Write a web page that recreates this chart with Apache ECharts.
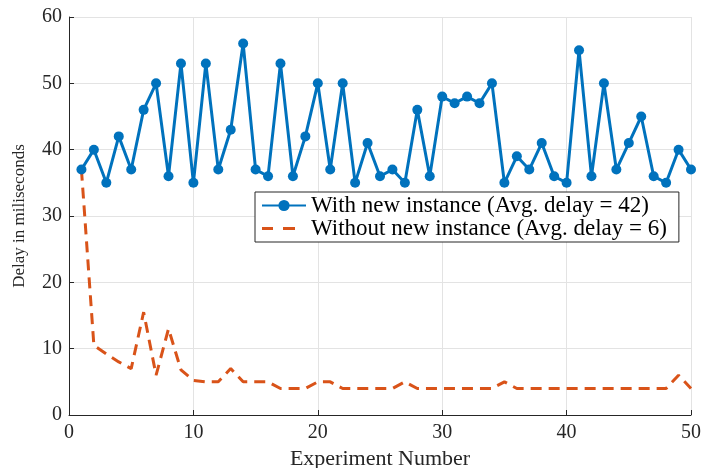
<!DOCTYPE html>
<html>
<head>
<meta charset="utf-8">
<script src="https://cdn.jsdelivr.net/npm/echarts@6/dist/echarts.min.js"></script>
<style>
html,body{margin:0;padding:0;background:#fff;}
#chart{width:704px;height:468px;}
</style>
</head>
<body>
<div id="chart"></div>
<script>
const experiments = [1,2,3,4,5,6,7,8,9,10,11,12,13,14,15,16,17,18,19,20,21,22,23,24,25,26,27,28,29,30,31,32,33,34,35,36,37,38,39,40,41,42,43,44,45,46,47,48,49,50];
const withNew = [37,40,35,42,37,46,50,36,53,35,53,37,43,56,37,36,53,36,42,50,37,50,35,41,36,37,35,46,36,48,47,48,47,50,35,39,37,41,36,35,55,36,50,37,41,45,36,35,40,37];
const withoutNew = [37,10.5,9.2,8,7,15.5,6,13,6.8,5.2,5,5,7,5,5,5,4,4,4,5,5,4,4,4,4,4,5,4,4,4,4,4,4,4,5,4,4,4,4,4,4,4,4,4,4,4,4,4,6,4];
const seriesNames = ['With new instance (Avg. delay = 42)', 'Without new instance (Avg. delay = 6)'];
const xTicks = [0,10,20,30,40,50];
const yTicks = [0,10,20,30,40,50,60];

const font = '"Liberation Serif", "Times New Roman", serif';
const textColor = '#262626';

const chart = echarts.init(document.getElementById('chart'), null, {renderer: 'canvas'});
chart.setOption({
  animation: false,
  backgroundColor: '#fff',
  grid: {left: 69, right: 13, top: 17, bottom: 53, containLabel: false, outerBoundsMode: 'none'},
  legend: {
    orient: 'vertical',
    left: 255,
    top: 192,
    backgroundColor: '#fff',
    borderColor: '#262626',
    borderWidth: 1,
    padding: [2, 12, 2, 6],
    itemGap: 0,
    itemWidth: 44,
    itemHeight: 14,
    textStyle: {fontFamily: font, fontSize: 23, color: '#000'},
    data: [
      {name: seriesNames[0]},
      {name: seriesNames[1], icon: 'path://M0,0h11v3h-11z M21,0h12v3h-12z M43.8,1.4h0.2v0.2h-0.2z', itemStyle: {color: '#D95319'}}
    ]
  },
  xAxis: {
    type: 'value',
    min: xTicks[0], max: xTicks[xTicks.length - 1], interval: 10,
    name: 'Experiment Number',
    nameLocation: 'middle',
    nameGap: 30,
    nameTextStyle: {fontFamily: font, fontSize: 22, color: textColor},
    axisLine: {show: true, onZero: false, lineStyle: {color: textColor, width: 1}},
    axisTick: {show: true, inside: true, length: 5, lineStyle: {color: textColor}},
    axisLabel: {fontFamily: font, fontSize: 20, color: textColor, margin: 8},
    splitLine: {show: true, lineStyle: {color: '#e3e3e3', width: 1}}
  },
  yAxis: {
    type: 'value',
    min: yTicks[0], max: yTicks[yTicks.length - 1], interval: 10,
    name: 'Delay in miliseconds',
    nameLocation: 'middle',
    nameGap: 41,
    nameTextStyle: {fontFamily: font, fontSize: 17, color: textColor},
    axisLine: {show: true, onZero: false, lineStyle: {color: textColor, width: 1}},
    axisTick: {show: true, inside: true, length: 5, lineStyle: {color: textColor}},
    axisLabel: {fontFamily: font, fontSize: 20, color: textColor, margin: 7},
    splitLine: {show: true, lineStyle: {color: '#e3e3e3', width: 1}}
  },
  series: [
    {
      name: seriesNames[0],
      type: 'line',
      data: experiments.map((x, i) => [x, withNew[i]]),
      color: '#0072BD',
      symbol: 'circle',
      symbolSize: 10,
      lineStyle: {width: 3, color: '#0072BD'},
      itemStyle: {color: '#0072BD'},
      z: 3
    },
    {
      name: seriesNames[1],
      type: 'line',
      data: experiments.map((x, i) => [x, withoutNew[i]]),
      color: '#D95319',
      symbol: 'none',
      showSymbol: false,
      lineStyle: {width: 3, color: '#D95319', type: [11, 7]},
      z: 2
    }
  ]
});
</script>
</body>
</html>
